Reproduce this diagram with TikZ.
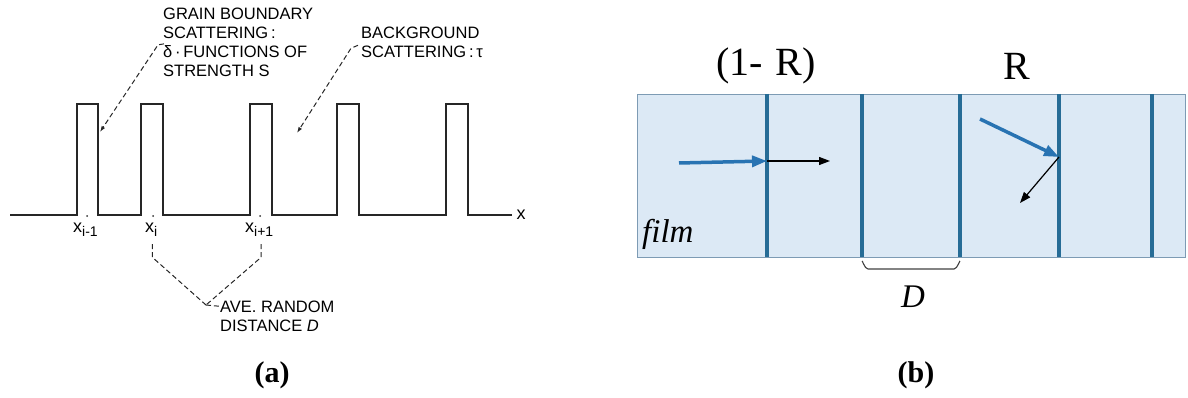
\documentclass[tikz,border=0pt]{standalone}
\usepackage{fontspec}
\setmainfont{Liberation Serif}
\newfontfamily\hsans{Liberation Sans}
\usetikzlibrary{arrows.meta,calc}
\definecolor{filmfill}{RGB}{220,233,245}
\definecolor{filmedge}{RGB}{125,155,180}
\definecolor{gbline}{RGB}{38,108,150}
\definecolor{bluearr}{RGB}{40,115,178}
\begin{document}
\begin{tikzpicture}[x=1pt,y=-1pt,
  lbl/.style={font=\hsans\fontsize{16.5}{16.5}\selectfont, inner sep=0pt, anchor=base west, text=black},
  sublbl/.style={font=\hsans\fontsize{18}{18}\selectfont, inner sep=0pt, anchor=base west, text=black},
  pulse/.style={line width=1.1pt, draw=black!85, line join=miter},
  leader/.style={line width=1pt, draw=black!85, dash pattern=on 5pt off 3pt},
  leadtip/.style={-{Latex[length=6pt,width=4pt]}},
  gbstroke/.style={draw=gbline, line width=3.5pt},
  bluearrow/.style={draw=bluearr, line width=3.5pt, -{Triangle[length=15pt,width=11pt]}},
  blackarrow/.style={draw=black, line width=1.2pt, -{Triangle[length=11pt,width=8pt]}},
  bigtxt/.style={font=\fontsize{40}{40}\selectfont, inner sep=0pt},
  captxt/.style={font=\bfseries\fontsize{30}{30}\selectfont, inner sep=0pt}
]
\useasboundingbox (0,0) rectangle (1188,398);

% ---------- panel (a) ----------
\draw[pulse] (10,215) -- (77,215) -- (77,104) -- (98,104) -- (98,215)
  -- (141,215) -- (141,104) -- (163,104) -- (163,215)
  -- (250,215) -- (250,104) -- (272,104) -- (272,215)
  -- (337,215) -- (337,104) -- (359,104) -- (359,215)
  -- (446,215) -- (446,104) -- (468,104) -- (468,215) -- (512,215);
\foreach \d in {87,153,260} \fill[black!80] (\d,216) circle (1pt);
\node[font=\hsans\fontsize{18}{18}\selectfont, inner sep=0pt, text=black] (xax) at (521,215) {x};

\node[sublbl] (xim1) at (73,233) {x\raisebox{-4pt}{\fontsize{14}{14}\selectfont i-1}};
\node[sublbl] (xi) at (145,233) {x\raisebox{-4pt}{\fontsize{14}{14}\selectfont i}};
\node[sublbl] (xip1) at (245,233) {x\raisebox{-4pt}{\fontsize{14}{14}\selectfont i+1}};

\node[lbl] (gb1) at (163,20) {GRAIN BOUNDARY};
\node[lbl] (gb2) at (163,39) {SCATTERING\,:};
\node[lbl] (gb3) at (163,58) {δ\,·\,FUNCTIONS OF};
\node[lbl] (gb4) at (163,77) {STRENGTH S};

\node[lbl] (bg1) at (361,39) {BACKGROUND};
\node[lbl] (bg2) at (361,58) {SCATTERING\,:\,τ};

\node[lbl] (ave1) at (220,312) {AVE. RANDOM};
\node[lbl] (ave2) at (220,331) {DISTANCE \textit{D}};

\coordinate (gbtip) at (100,132);
\coordinate (bgtip) at (297,133);
\coordinate (jn) at (206,305);

\draw[leader,leadtip] ($(gb3.north west)+(1,-2)$) -- ++(-6,1) -- (gbtip);
\draw[leader,leadtip] ($(bg2.north west)+(-3,-1)$) -- ++(-7,3) -- (bgtip);
\draw[leader] ($(xi.south)+(1,7)$) -- ++(0,13) -- (jn);
\draw[leader] ($(xip1.south)+(2,7)$) -- ++(0,13) -- (jn);
\draw[leader] (jn) -- (ave1.west);

\node[captxt] (capa) at (272,375) {(a)};

% ---------- panel (b) ----------
\node[draw=filmedge, fill=filmfill, line width=1.3pt, minimum width=548pt, minimum height=163pt, inner sep=0pt, anchor=north west] (film) at (637,94) {};
\foreach \x [count=\k] in {767,862,960,1059,1152}
  \draw[gbstroke] (\x,94) coordinate (gt\k) -- (\x,257) coordinate (gbot\k);

\node[bigtxt] (oneR) at (766,66) {(1-\,\,R)};
\node[bigtxt] (R) at (1017,66) {R};
\node[font=\itshape\fontsize{33}{33}\selectfont, inner sep=0pt, anchor=base west] (filmlbl) at (642,242) {film};

\coordinate (a1s) at (679,163);
\coordinate (a1e) at (767,161);
\coordinate (a2e) at (830,161);
\coordinate (b1s) at (980,119);
\coordinate (b1e) at (1059,157);
\coordinate (b2e) at (1020,203);
\draw[bluearrow] (a1s) -- (a1e);
\draw[blackarrow] (a1e) -- (a2e);
\draw[bluearrow] (b1s) -- (b1e);
\draw[blackarrow] (b1e) -- (b2e);

\draw[line width=1.1pt, draw=black!75] ($(gbot2)+(0,5)$) to[out=90,in=180] ++(6,7) -- ($(gbot3)+(-6,12)$) to[out=0,in=90] ++(6,-7);
\node[font=\itshape\fontsize{33}{33}\selectfont, inner sep=0pt] (Dlbl) at (913,297) {D};

\node[captxt] (capb) at (916,375) {(b)};
\end{tikzpicture}
\end{document}
